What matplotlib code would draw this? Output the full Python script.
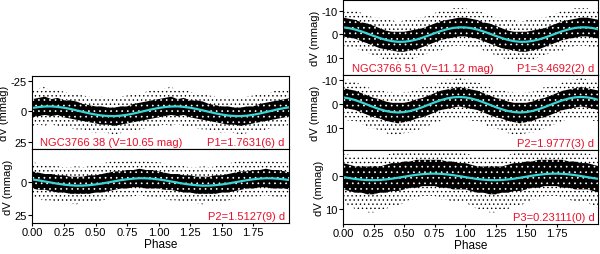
import numpy as np
import matplotlib
matplotlib.use("Agg")
import matplotlib.pyplot as plt

plt.rcParams["font.family"] = ["Liberation Sans", "DejaVu Sans"]
plt.rcParams["axes.unicode_minus"] = False
plt.rcParams["hatch.linewidth"] = 0.5

# one phase cycle (0 .. 0.95), drawn twice as usual for folded light curves
phase = np.arange(20) * 0.05

# NGC3766 38 -- P1
lt_fit = [-2.7, -3.5, -3.9, -4.0, -3.6, -2.9, -1.9, -0.7, 0.5, 1.7,
          2.7, 3.5, 3.9, 4.0, 3.6, 2.9, 1.9, 0.7, -0.5, -1.7]
lt_core_top = [-10, -11, -12, -10, -11, -9, -9, -8, -6, -5,
               -4, -4, -3, -3, -4, -4, -6, -7, -8, -9]
lt_core_bot = [5, 4, 3, 4, 3, 5, 6, 7, 8, 9, 10, 11, 11, 12, 11, 10, 9, 8, 7, 6]
lt_out_top = [-17, -19, -20, -17, -18, -16, -15, -14, -13, -12,
              -11, -12, -10, -11, -12, -13, -15, -14, -16, -18]
lt_out_bot = [12, 11, 12, 10, 13, 12, 14, 15, 15, 17,
              18, 17, 18, 19, 18, 16, 17, 15, 14, 13]

# NGC3766 38 -- P2
lb_fit = [-1.9, -1.2, -0.35, 0.5, 1.35, 2.0, 2.5, 2.8, 2.75, 2.45,
          1.9, 1.2, 0.35, -0.5, -1.35, -2.0, -2.5, -2.8, -2.75, -2.45]
lb_core_top = [-8, -7, -6, -6, -5, -5, -4, -4, -4, -5,
               -5, -6, -7, -8, -8, -9, -9, -10, -9, -9]
lb_core_bot = [5, 6, 6, 7, 8, 8, 9, 9, 9, 9, 8, 8, 7, 6, 5, 5, 4, 4, 5, 5]
lb_out_top = [-15, -14, -13, -12, -12, -11, -11, -12, -11, -12,
              -13, -14, -15, -16, -15, -17, -16, -17, -16, -15]
lb_out_bot = [12, 13, 14, 14, 15, 16, 16, 17, 15, 16,
              15, 14, 13, 12, 12, 11, 11, 10, 11, 12]

# NGC3766 51 -- P1
r1_fit = [-2.84, -2.52, -1.92, -1.12, -0.19, 0.78, 1.69, 2.46, 3.01, 3.28,
          3.24, 2.92, 2.32, 1.52, 0.59, -0.38, -1.29, -2.06, -2.61, -2.88]
r1_core_top = [-7, -6.5, -6, -5, -4.5, -3.5, -2.5, -1.5, -1, -1,
               -1, -1.5, -2, -2.5, -3.5, -4.5, -5.5, -6, -6.5, -7]
r1_core_bot = [1, 1.5, 2, 3, 4, 5, 6, 6.5, 7, 7.5,
               7.5, 7, 6.5, 5.5, 4.5, 3.5, 2.5, 2, 1.5, 1]
r1_out_top = [-11, -10, -10, -9, -8, -7, -7, -6, -6, -5,
              -6, -6, -7, -7, -8, -9, -10, -10, -11, -11]
r1_out_bot = [5, 6, 6, 7, 8, 9, 10, 11, 11, 12, 11, 11, 10, 9, 8, 7, 7, 6, 5, 5]

# NGC3766 51 -- P2
r2_fit = [-2.74, -2.29, -1.58, -0.69, 0.30, 1.29, 2.18, 2.89, 3.34, 3.50,
          3.34, 2.89, 2.18, 1.29, 0.30, -0.69, -1.58, -2.29, -2.74, -2.90]
r2_core_top = [-6.5, -6, -5.5, -4.5, -3.5, -2.5, -2, -1, -0.5, -0.5,
               -0.5, -1, -2, -2.5, -3.5, -4.5, -5.5, -6, -6.5, -7]
r2_core_bot = [1.5, 2, 2.5, 3.5, 4.5, 5.5, 6, 7, 7.5, 8,
               7.5, 7, 6, 5.5, 4.5, 3.5, 2.5, 2, 1.5, 1]
r2_out_top = [-10, -10, -9, -8, -7, -6, -6, -5, -5, -4,
              -5, -5, -6, -7, -7, -8, -9, -10, -10, -11]
r2_out_bot = [6, 7, 7, 8, 10, 10, 11, 12, 13, 13, 12, 12, 11, 10, 9, 8, 7, 6, 6, 6]

# NGC3766 51 -- P3
r3_fit = [0.26, 0.57, 0.84, 1.04, 1.17, 1.20, 1.13, 0.97, 0.74, 0.45,
          0.14, -0.17, -0.44, -0.64, -0.77, -0.80, -0.73, -0.57, -0.34, -0.05]
r3_core_top = [-4, -3.5, -3, -3, -3, -3, -3, -3.5, -4, -4,
               -4.5, -4.5, -5, -5, -5, -5, -5, -4.5, -4.5, -4]
r3_core_bot = [4, 4.5, 5, 5, 5.5, 5.5, 5, 5, 4.5, 4.5,
               4, 3.5, 3.5, 3, 3, 3, 3.5, 3.5, 4, 4]
r3_out_top = [-7, -6.5, -6, -6, -6, -6, -6, -6.5, -7, -7.5,
              -8, -8, -8, -8, -8, -8, -8, -7.5, -7.5, -7]
r3_out_bot = [8, 9, 10, 10, 11, 11, 10, 10, 9, 9, 8, 7, 7, 6, 6, 6, 7, 7, 8, 8]

RED = "#e8102a"
CYAN = "#3ad4d4"
FS = 8


def fold(v):
    # two cycles plus a little overhang to the right edge
    v = np.asarray(v, dtype=float)
    return np.concatenate([v, v, v[:3]])


x2 = np.concatenate([phase, phase + 1, phase[:3] + 2])


def panel(ax, fit, ctop, cbot, otop, obot, ylim, yticks, xmax):
    ax.fill_between(x2, fold(otop), fold(obot), facecolor="none",
                    edgecolor="black", linewidth=0, hatch="....")
    ax.fill_between(x2, fold(ctop), fold(cbot), facecolor="black",
                    edgecolor="white", linewidth=0, hatch="...")
    ax.plot(x2, fold(fit), color=CYAN, lw=1.6)
    ax.set_xlim(0, xmax)
    ax.set_ylim(*ylim)
    ax.set_yticks(yticks)
    ax.set_xticks(np.arange(0, 2.0, 0.25))
    ax.tick_params(direction="out", length=3, width=0.8, labelsize=FS, pad=1)
    ax.tick_params(axis="x", length=2)
    ax.set_ylabel("dV (mmag)", fontsize=FS, labelpad=1)
    for s in ax.spines.values():
        s.set_linewidth(0.8)


fig = plt.figure(figsize=(6.0, 2.55), dpi=100)

ax_lt = fig.add_axes([0.054, 0.412, 0.427, 0.286])
ax_lb = fig.add_axes([0.054, 0.122, 0.427, 0.290])
ax_r1 = fig.add_axes([0.572, 0.702, 0.425, 0.294])
ax_r2 = fig.add_axes([0.572, 0.408, 0.425, 0.294])
ax_r3 = fig.add_axes([0.572, 0.118, 0.425, 0.290])

panel(ax_lt, lt_fit, lt_core_top, lt_core_bot, lt_out_top, lt_out_bot,
      (31, -29), [-25, 0, 25], 2.03)
panel(ax_lb, lb_fit, lb_core_top, lb_core_bot, lb_out_top, lb_out_bot,
      (31, -25), [0, 25], 2.03)
panel(ax_r1, r1_fit, r1_core_top, r1_core_bot, r1_out_top, r1_out_bot,
      (17.4, -14.5), [-10, 0, 10], 2.09)
panel(ax_r2, r2_fit, r2_core_top, r2_core_bot, r2_out_top, r2_out_bot,
      (19, -12), [-10, 0, 10], 2.09)
panel(ax_r3, r3_fit, r3_core_top, r3_core_bot, r3_out_top, r3_out_bot,
      (14.5, -8), [0, 10], 2.09)

for ax in (ax_lt, ax_r1, ax_r2):
    ax.tick_params(axis="x", labelbottom=False, length=0)
for ax in (ax_lb, ax_r3):
    ax.set_xticklabels(["0.00", "0.25", "0.50", "0.75", "1.00", "1.25", "1.50", "1.75"])
    ax.set_xlabel("Phase", fontsize=FS + 0.5, labelpad=1)

kw = dict(color=RED, fontsize=FS, va="bottom")
ax_lt.text(0.03, 0.02, "NGC3766 38 (V=10.65 mag)", transform=ax_lt.transAxes, ha="left", **kw)
ax_lt.text(0.985, 0.02, "P1=1.7631(6) d", transform=ax_lt.transAxes, ha="right", **kw)
ax_lb.text(0.985, 0.02, "P2=1.5127(9) d", transform=ax_lb.transAxes, ha="right", **kw)
ax_r1.text(0.035, 0.02, "NGC3766 51 (V=11.12 mag)", transform=ax_r1.transAxes, ha="left", **kw)
ax_r1.text(0.985, 0.02, "P1=3.4692(2) d", transform=ax_r1.transAxes, ha="right", **kw)
ax_r2.text(0.985, 0.02, "P2=1.9777(3) d", transform=ax_r2.transAxes, ha="right", **kw)
ax_r3.text(0.985, 0.02, "P3=0.23111(0) d", transform=ax_r3.transAxes, ha="right", **kw)

fig.savefig("out.png", dpi=100)
